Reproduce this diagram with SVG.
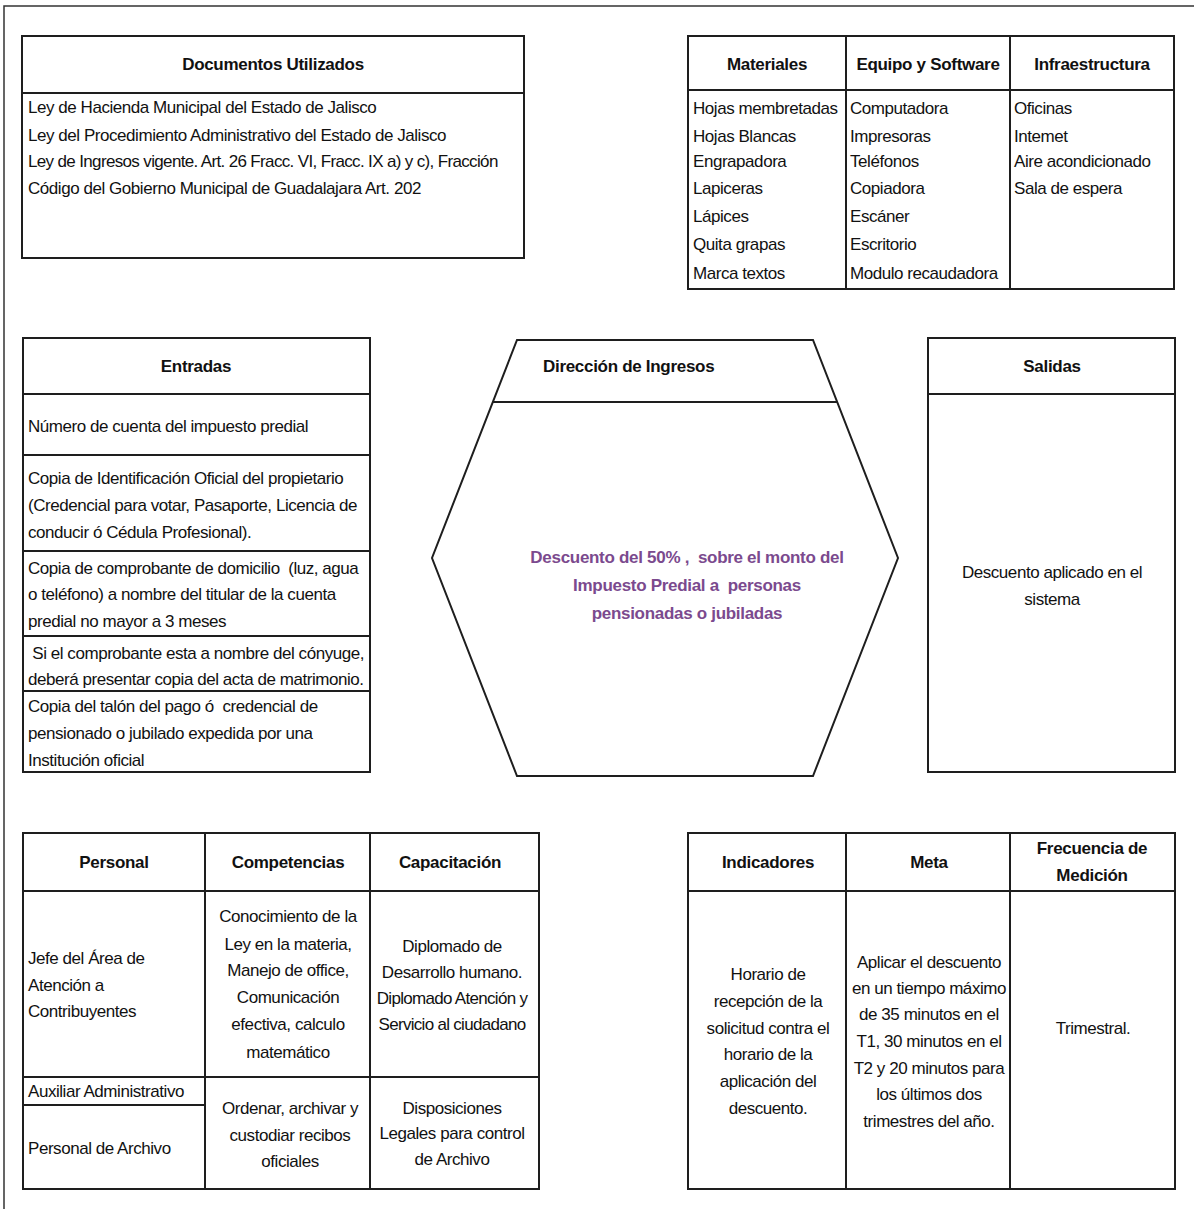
<svg xmlns="http://www.w3.org/2000/svg" width="1194" height="1209" viewBox="0 0 1194 1209">
<style>
  .box{fill:#fff;stroke:#1e1e1e;stroke-width:2}
  .ln{stroke:#1e1e1e;stroke-width:2;fill:none}
  text{font-family:"Liberation Sans",Arial,sans-serif;font-size:17px;letter-spacing:-0.45px;fill:#111;white-space:pre}
  .h{font-weight:bold;text-anchor:middle;letter-spacing:-0.3px}
  .c{text-anchor:middle}
  .p{font-weight:bold;fill:#7b4a8e;text-anchor:middle;letter-spacing:-0.3px}
</style>
<rect width="1194" height="1209" fill="#fff"/>
<polyline points="4,1209 4,6 1194,6" fill="none" stroke="#333" stroke-width="1.5"/>

<g id="documentos">
  <rect class="box" x="22" y="36" width="502" height="222"/>
  <line class="ln" x1="22" y1="93" x2="524" y2="93"/>
  <text class="h" x="273" y="70">Documentos Utilizados</text>
  <text x="28" y="113">Ley de Hacienda Municipal del Estado de Jalisco</text>
  <text x="28" y="141">Ley del Procedimiento Administrativo del Estado de Jalisco</text>
  <text x="28" y="167" style="letter-spacing:-0.65px">Ley de Ingresos vigente. Art. 26 Fracc. VI, Fracc. IX a) y c), Fracción</text>
  <text x="28" y="194">Código del Gobierno Municipal de Guadalajara Art. 202</text>
</g>

<g id="recursos">
  <rect class="box" x="688" y="36" width="486" height="253"/>
  <line class="ln" x1="688" y1="90" x2="1174" y2="90"/>
  <line class="ln" x1="846" y1="36" x2="846" y2="289"/>
  <line class="ln" x1="1010" y1="36" x2="1010" y2="289"/>
  <text class="h" x="767" y="70">Materiales</text>
  <text class="h" x="928" y="70">Equipo y Software</text>
  <text class="h" x="1092" y="70">Infraestructura</text>
  <text x="693" y="114">Hojas membretadas</text>
  <text x="693" y="142">Hojas Blancas</text>
  <text x="693" y="167">Engrapadora</text>
  <text x="693" y="194">Lapiceras</text>
  <text x="693" y="222">Lápices</text>
  <text x="693" y="250">Quita grapas</text>
  <text x="693" y="279">Marca textos</text>
  <text x="850" y="114">Computadora</text>
  <text x="850" y="142">Impresoras</text>
  <text x="850" y="167">Teléfonos</text>
  <text x="850" y="194">Copiadora</text>
  <text x="850" y="222">Escáner</text>
  <text x="850" y="250">Escritorio</text>
  <text x="850" y="279">Modulo recaudadora</text>
  <text x="1014" y="114">Oficinas</text>
  <text x="1014" y="142">Intemet</text>
  <text x="1014" y="167">Aire acondicionado</text>
  <text x="1014" y="194">Sala de espera</text>
</g>

<g id="entradas">
  <rect class="box" x="23" y="338" width="347" height="434"/>
  <line class="ln" x1="23" y1="394" x2="370" y2="394"/>
  <line class="ln" x1="23" y1="455" x2="370" y2="455"/>
  <line class="ln" x1="23" y1="551" x2="370" y2="551"/>
  <line class="ln" x1="23" y1="636" x2="370" y2="636"/>
  <line class="ln" x1="23" y1="691" x2="370" y2="691"/>
  <text class="h" x="196" y="372">Entradas</text>
  <text x="28" y="432">Número de cuenta del impuesto predial</text>
  <text x="28" y="484">Copia de Identificación Oficial del propietario</text>
  <text x="28" y="511">(Credencial para votar, Pasaporte, Licencia de</text>
  <text x="28" y="538">conducir ó Cédula Profesional).</text>
  <text x="28" y="574">Copia de comprobante de domicilio  (luz, agua</text>
  <text x="28" y="600">o teléfono) a nombre del titular de la cuenta</text>
  <text x="28" y="627">predial no mayor a 3 meses</text>
  <text x="28" y="659"> Si el comprobante esta a nombre del cónyuge,</text>
  <text x="28" y="685">deberá presentar copia del acta de matrimonio.</text>
  <text x="28" y="712">Copia del talón del pago ó  credencial de</text>
  <text x="28" y="739">pensionado o jubilado expedida por una</text>
  <text x="28" y="766">Institución oficial</text>
</g>

<g id="proceso">
  <polygon class="box" points="517,340 813,340 898,558 813,776 517,776 432,558"/>
  <line class="ln" x1="493" y1="402" x2="837" y2="402"/>
  <text x="543" y="372" style="font-weight:bold;letter-spacing:-0.3px">Dirección de Ingresos</text>
  <text class="p" x="687" y="563">Descuento del 50% ,  sobre el monto del</text>
  <text class="p" x="687" y="591">Impuesto Predial a  personas</text>
  <text class="p" x="687" y="619">pensionadas o jubiladas</text>
</g>

<g id="salidas">
  <rect class="box" x="928" y="338" width="247" height="434"/>
  <line class="ln" x1="928" y1="394" x2="1175" y2="394"/>
  <text class="h" x="1052" y="372">Salidas</text>
  <text class="c" x="1052" y="578">Descuento aplicado en el</text>
  <text class="c" x="1052" y="605">sistema</text>
</g>

<g id="personal">
  <rect class="box" x="23" y="833" width="516" height="356"/>
  <line class="ln" x1="23" y1="891" x2="539" y2="891"/>
  <line class="ln" x1="23" y1="1077" x2="539" y2="1077"/>
  <line class="ln" x1="23" y1="1105" x2="205" y2="1105"/>
  <line class="ln" x1="205" y1="833" x2="205" y2="1189"/>
  <line class="ln" x1="370" y1="833" x2="370" y2="1189"/>
  <text class="h" x="114" y="868">Personal</text>
  <text class="h" x="288" y="868">Competencias</text>
  <text class="h" x="450" y="868">Capacitación</text>
  <text x="28" y="964">Jefe del Área de</text>
  <text x="28" y="991">Atención a</text>
  <text x="28" y="1017">Contribuyentes</text>
  <text class="c" x="288" y="922">Conocimiento de la</text>
  <text class="c" x="288" y="950">Ley en la materia,</text>
  <text class="c" x="288" y="976">Manejo de office,</text>
  <text class="c" x="288" y="1003">Comunicación</text>
  <text class="c" x="288" y="1030">efectiva, calculo</text>
  <text class="c" x="288" y="1058">matemático</text>
  <text class="c" x="452" y="952">Diplomado de</text>
  <text class="c" x="452" y="978">Desarrollo humano.</text>
  <text class="c" x="452" y="1004" style="letter-spacing:-0.7px">Diplomado Atención y</text>
  <text class="c" x="452" y="1030" style="letter-spacing:-0.7px">Servicio al ciudadano</text>
  <text x="28" y="1097">Auxiliar Administrativo</text>
  <text x="28" y="1154">Personal de Archivo</text>
  <text class="c" x="290" y="1114">Ordenar, archivar y</text>
  <text class="c" x="290" y="1141">custodiar recibos</text>
  <text class="c" x="290" y="1167">oficiales</text>
  <text class="c" x="452" y="1114">Disposiciones</text>
  <text class="c" x="452" y="1139">Legales para control</text>
  <text class="c" x="452" y="1165">de Archivo</text>
</g>

<g id="indicadores">
  <rect class="box" x="688" y="833" width="487" height="356"/>
  <line class="ln" x1="688" y1="891" x2="1175" y2="891"/>
  <line class="ln" x1="846" y1="833" x2="846" y2="1189"/>
  <line class="ln" x1="1010" y1="833" x2="1010" y2="1189"/>
  <text class="h" x="768" y="868">Indicadores</text>
  <text class="h" x="929" y="868">Meta</text>
  <text class="h" x="1092" y="854">Frecuencia de</text>
  <text class="h" x="1092" y="881">Medición</text>
  <text class="c" x="768" y="980">Horario de</text>
  <text class="c" x="768" y="1007">recepción de la</text>
  <text class="c" x="768" y="1034">solicitud contra el</text>
  <text class="c" x="768" y="1060">horario de la</text>
  <text class="c" x="768" y="1087">aplicación del</text>
  <text class="c" x="768" y="1114">descuento.</text>
  <text class="c" x="929" y="968">Aplicar el descuento</text>
  <text class="c" x="929" y="994">en un tiempo máximo</text>
  <text class="c" x="929" y="1020">de 35 minutos en el</text>
  <text class="c" x="929" y="1047">T1, 30 minutos en el</text>
  <text class="c" x="929" y="1074">T2 y 20 minutos para</text>
  <text class="c" x="929" y="1100">los últimos dos</text>
  <text class="c" x="929" y="1127">trimestres del año.</text>
  <text class="c" x="1093" y="1034">Trimestral.</text>
</g>
</svg>
